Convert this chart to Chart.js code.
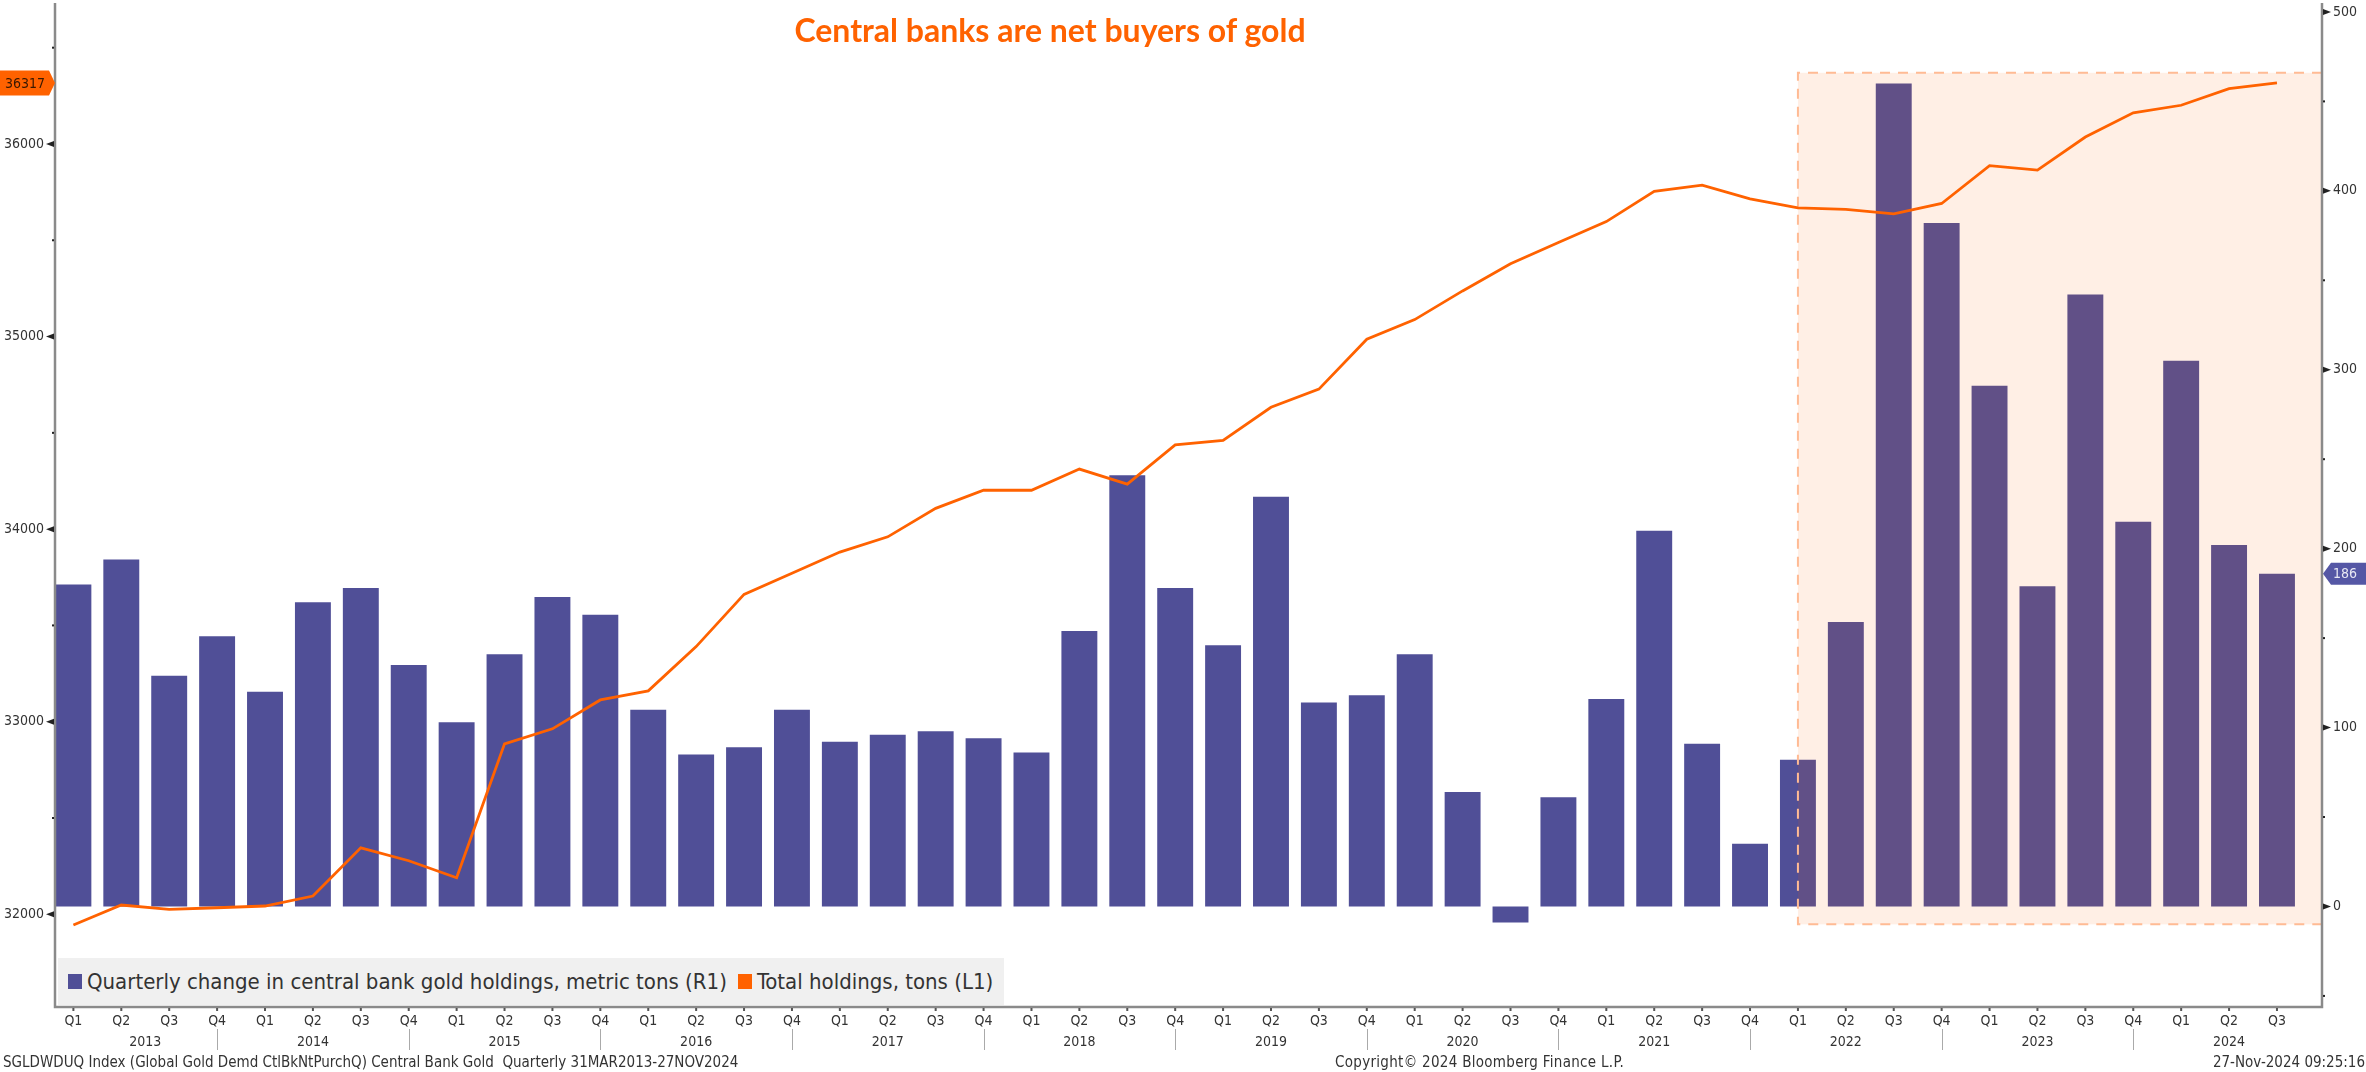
<!DOCTYPE html>
<html lang="en">
<head>
<meta charset="utf-8">
<title>Central banks are net buyers of gold</title>
<script src="https://cdn.jsdelivr.net/npm/chart.js@4.4.1/dist/chart.umd.min.js"></script>
<style>
  html, body { margin: 0; padding: 0; background: #fff; }
  #stage { position: relative; width: 2366px; height: 1072px; overflow: hidden; background: #fff; }
  #chart { position: absolute; left: 0; top: 0; }
  .txt { position: absolute; white-space: nowrap; font-family: "DejaVu Sans Condensed", "DejaVu Sans", sans-serif; color: #333; }
  #title { left: 0; width: 2100px; top: 10px; line-height: 40px; text-align: center;
           font-family: Lato, "Open Sans", sans-serif; font-weight: 700; font-size: 32px; color: #ff6200; }
  #legend { left: 58px; top: 958px; width: 946px; height: 47px; background: #f0f0f0;
            display: flex; align-items: center; padding-left: 10px; box-sizing: border-box; font-size: 22px; color: #333; }
  #legend .item { display: flex; align-items: center; margin-right: 11px; }
  #legend .sw { display: inline-block; width: 14px; height: 15px; margin-right: 5px; }
  .foot { top: 1053px; line-height: 18px; font-size: 15px; color: #333; }
</style>
</head>
<body>
<div id="stage">
  <canvas id="chart" width="2366" height="1072"></canvas>
  <div id="title" class="txt">Central banks are net buyers of gold</div>
  <div id="legend" class="txt">
    <span class="item"><span class="sw" style="background:#504f97"></span>Quarterly change in central bank gold holdings, metric tons (R1)</span>
    <span class="item"><span class="sw" style="background:#ff6200"></span>Total holdings, tons (L1)</span>
  </div>
  <div class="txt foot" style="left:3px">SGLDWDUQ Index (Global Gold Demd CtlBkNtPurchQ) Central Bank Gold&nbsp; Quarterly 31MAR2013-27NOV2024</div>
  <div class="txt foot" style="left:1335px; letter-spacing:0.3px">Copyright© 2024 Bloomberg Finance L.P.</div>
  <div class="txt foot" style="right:1px">27-Nov-2024 09:25:16</div>
</div>
<script>
// Quarter tick labels, 2013 Q1 .. 2024 Q3
const quarterLabels = [
  'Q1','Q2','Q3','Q4', 'Q1','Q2','Q3','Q4', 'Q1','Q2','Q3','Q4', 'Q1','Q2','Q3','Q4',
  'Q1','Q2','Q3','Q4', 'Q1','Q2','Q3','Q4', 'Q1','Q2','Q3','Q4', 'Q1','Q2','Q3','Q4',
  'Q1','Q2','Q3','Q4', 'Q1','Q2','Q3','Q4', 'Q1','Q2','Q3','Q4', 'Q1','Q2','Q3'
];
const yearLabels = ['2013','2014','2015','2016','2017','2018','2019','2020','2021','2022','2023','2024'];

// Axis tick values (labelled ticks plus the small marks between them)
const leftTicks = [32000, 32500, 33000, 33500, 34000, 34500, 35000, 35500, 36000, 36500];
const rightTicks = [-50, 0, 50, 100, 150, 200, 250, 300, 350, 400, 450, 500];

// Quarterly net central bank gold purchases, metric tons (right axis)
const purchases = [
  180, 194, 129, 151,
  120, 170, 178, 135,
  103, 141, 173, 163,
  110,  85,  89, 110,
   92,  96,  98,  94,
   86, 154, 241, 178,
  146, 229, 114, 118,
  141,  64,  -9,  61,
  116, 210,  91,  35,
   82, 159, 460, 382,
  291, 179, 342, 215,
  305, 202, 186
];

// Total central bank gold holdings, tons (left axis)
const holdings = [
  31944, 32048, 32026, 32034,
  32043, 32095, 32345, 32278,
  32190, 32885, 32963, 33113,
  33160, 33390, 33661, 33771,
  33881, 33960, 34108, 34202,
  34202, 34312, 34234, 34437,
  34461, 34633, 34727, 34986,
  35088, 35237, 35378, 35488,
  35597, 35754, 35786, 35715,
  35668, 35660, 35637, 35691,
  35887, 35864, 36036, 36162,
  36201, 36287, 36317
];

// Shaded period: from 2022 Q1 onwards, in right-axis units
const shadeFromIndex = 36;
const shadeTop = 466;
const shadeBottom = -10;

const FONT = '"DejaVu Sans Condensed", "DejaVu Sans", sans-serif';
const BAR = '#504f97';
const ORANGE = '#ff6200';

const axesPlugin = {
  id: 'axesDecor',
  afterDatasetDraw(chart, args) {
    if (args.index !== 0) return;
    const { ctx, chartArea, scales: { x, y1 } } = chart;
    const l = x.getPixelForValue(shadeFromIndex);
    const r = chartArea.right;
    const t = y1.getPixelForValue(shadeTop);
    const b = y1.getPixelForValue(shadeBottom);
    ctx.save();
    ctx.fillStyle = 'rgba(255, 98, 0, 0.1)';
    ctx.fillRect(l, t, r - l, b - t);
    ctx.strokeStyle = '#ffbb94';
    ctx.lineWidth = 2;
    ctx.setLineDash([10, 8]);
    ctx.beginPath();
    ctx.moveTo(r, t); ctx.lineTo(l, t); ctx.lineTo(l, b); ctx.lineTo(r, b);
    ctx.stroke();
    ctx.restore();
  },
  afterDraw(chart) {
    const { ctx, chartArea: ca, scales: { x, y, y1 } } = chart;
    ctx.save();

    // axis lines
    ctx.strokeStyle = '#8a8a8a';
    ctx.lineWidth = 2.5;
    ctx.beginPath();
    ctx.moveTo(ca.left, ca.top); ctx.lineTo(ca.left, ca.bottom);
    ctx.lineTo(ca.right, ca.bottom); ctx.lineTo(ca.right, ca.top);
    ctx.stroke();

    // left axis ticks: triangles on thousands, small marks between
    ctx.fillStyle = '#222';
    y.ticks.forEach(tk => {
      const py = y.getPixelForValue(tk.value);
      if (tk.value % 1000 === 0) {
        ctx.beginPath();
        ctx.moveTo(ca.left - 9, py); ctx.lineTo(ca.left - 1, py - 3); ctx.lineTo(ca.left - 1, py + 3);
        ctx.closePath(); ctx.fill();
      } else {
        ctx.fillRect(ca.left - 3, py - 1, 2, 2);
      }
    });
    // right axis ticks
    y1.ticks.forEach(tk => {
      const py = y1.getPixelForValue(tk.value);
      if (tk.value % 100 === 0) {
        ctx.beginPath();
        ctx.moveTo(ca.right + 9, py); ctx.lineTo(ca.right + 1, py - 3); ctx.lineTo(ca.right + 1, py + 3);
        ctx.closePath(); ctx.fill();
      } else {
        ctx.fillRect(ca.right + 1, py - 1, 2, 2);
      }
    });
    // quarter marks under the x axis
    ctx.fillStyle = '#555';
    x.ticks.forEach(tk => {
      const px = x.getPixelForValue(tk.value);
      ctx.fillRect(px - 1, ca.bottom + 1, 2, 3);
    });

    // year labels and year separators
    ctx.font = '14px ' + FONT;
    ctx.fillStyle = '#333';
    ctx.textAlign = 'center';
    ctx.textBaseline = 'middle';
    ctx.strokeStyle = '#aaa';
    ctx.lineWidth = 1;
    const last = quarterLabels.length;
    yearLabels.forEach((yr, k) => {
      const from = Math.max(4 * k - 1, 0);
      const to = Math.min(4 * k + 3, last);
      ctx.fillText(yr, x.getPixelForValue((from + to) / 2), ca.bottom + 35);
      if (4 * k + 3 < last) {
        const sx = Math.round(x.getPixelForValue(4 * k + 3)) + 0.5;
        ctx.beginPath();
        ctx.moveTo(sx, ca.bottom + 22); ctx.lineTo(sx, ca.bottom + 43);
        ctx.stroke();
      }
    });

    // last-value tags
    const lastHold = holdings[holdings.length - 1];
    const hy = y.getPixelForValue(lastHold);
    ctx.fillStyle = ORANGE;
    ctx.beginPath();
    ctx.moveTo(0, hy - 12.5); ctx.lineTo(ca.left - 6, hy - 12.5); ctx.lineTo(ca.left, hy);
    ctx.lineTo(ca.left - 6, hy + 12.5); ctx.lineTo(0, hy + 12.5); ctx.closePath();
    ctx.fill();
    ctx.fillStyle = '#3a1800';
    ctx.font = '14px ' + FONT;
    ctx.textAlign = 'left';
    ctx.fillText(String(lastHold), 5, hy + 1);

    const lastBuy = purchases[purchases.length - 1];
    const by = y1.getPixelForValue(lastBuy);
    ctx.fillStyle = '#5557a5';
    ctx.beginPath();
    ctx.moveTo(ca.right + 1, by); ctx.lineTo(ca.right + 9, by - 11); ctx.lineTo(chart.width, by - 11);
    ctx.lineTo(chart.width, by + 11); ctx.lineTo(ca.right + 9, by + 11); ctx.closePath();
    ctx.fill();
    ctx.fillStyle = '#e8e8f4';
    ctx.fillText(String(lastBuy), ca.right + 11, by + 1);

    ctx.restore();
  }
};

new Chart(document.getElementById('chart'), {
  type: 'bar',
  data: {
    datasets: [
      {
        type: 'bar',
        label: 'Quarterly change in central bank gold holdings, metric tons (R1)',
        data: purchases.map((v, i) => ({ x: i, y: v })),
        xAxisID: 'x',
        yAxisID: 'y1',
        backgroundColor: BAR,
        borderWidth: 0,
        barPercentage: 0.75,
        categoryPercentage: 1,
        order: 2
      },
      {
        type: 'line',
        label: 'Total holdings, tons (L1)',
        data: holdings.map((v, i) => ({ x: i, y: v })),
        xAxisID: 'x',
        yAxisID: 'y',
        borderColor: ORANGE,
        borderWidth: 2.8,
        pointRadius: 0,
        tension: 0,
        fill: false,
        order: 1
      }
    ]
  },
  options: {
    responsive: false,
    animation: false,
    devicePixelRatio: 1,
    layout: { padding: { top: 3, left: 0, right: 0, bottom: 0 } },
    plugins: { legend: { display: false }, tooltip: { enabled: false }, title: { display: false } },
    scales: {
      x: {
        type: 'linear', position: 'bottom', min: -0.384, max: 46.94, offset: false,
        grid: { display: false, drawTicks: false }, border: { display: false },
        ticks: {
          stepSize: 1, autoSkip: false, maxRotation: 0, minRotation: 0, includeBounds: false,
          padding: 6, color: '#333', font: { family: FONT, size: 14 },
          callback: v => (Number.isInteger(v) && quarterLabels[v]) ? quarterLabels[v] : ''
        },
        afterFit: s => { s.height = 65; s.paddingLeft = 0; s.paddingRight = 0; }
      },
      y: {
        type: 'linear', position: 'left', min: 31518.6, max: 36732,
        grid: { display: false, drawTicks: false }, border: { display: false },
        afterBuildTicks: s => { s.ticks = leftTicks.map(v => ({ value: v })); },
        ticks: {
          padding: 11, color: '#333', font: { family: FONT, size: 14 },
          callback: v => (v % 1000 === 0 ? String(v) : '')
        },
        afterFit: s => { s.width = 55; s.paddingTop = 0; s.paddingBottom = 0; }
      },
      y1: {
        type: 'linear', position: 'right', min: -56.2, max: 505,
        grid: { display: false, drawTicks: false }, border: { display: false },
        afterBuildTicks: s => { s.ticks = rightTicks.map(v => ({ value: v })); },
        ticks: {
          padding: 11, color: '#333', font: { family: FONT, size: 14 },
          callback: v => (v % 100 === 0 ? String(v) : '')
        },
        afterFit: s => { s.width = 44; s.paddingTop = 0; s.paddingBottom = 0; }
      }
    }
  },
  plugins: [axesPlugin]
});
</script>
</body>
</html>
